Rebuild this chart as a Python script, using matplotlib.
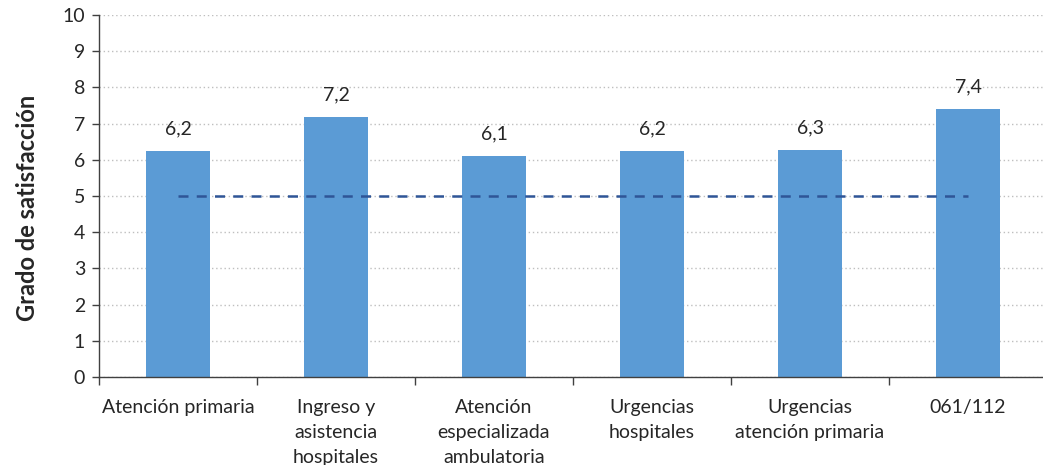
import numpy as np
from matplotlib import pyplot as plt

categories = ["Atención primaria", "Ingreso y\nasistencia\nhospitales",
              "Atención\nespecializada\nambulatoria", "Urgencias\nhospitales",
              "Urgencias\natención primaria", "061/112"]
values = [6.24, 7.18, 6.10, 6.24, 6.27, 7.40]
value_labels = ["6,2", "7,2", "6,1", "6,2", "6,3", "7,4"]
reference = 5

plt.rcParams['font.family'] = ['Lato', 'DejaVu Sans']

fig = plt.figure(figsize=(10.43, 4.65), dpi=100)
ax = fig.add_axes([99/1043, 88/465, 948/1043, 362/465])

x = np.arange(len(categories))
ax.bar(x, values, width=0.405, color='#5B9BD5', zorder=2)
ax.plot([x[0], x[-1]], [reference, reference], color='#2F5597', lw=1.8,
        dashes=(4, 3.3), zorder=3)

for xi, v, lab in zip(x, values, value_labels):
    ax.annotate(lab, (xi, v), xytext=(0, 10), textcoords='offset points',
                ha='center', va='bottom', fontsize=14, color='#262626')

ax.set_xlim(-0.5, len(categories) - 0.5)
ax.set_ylim(0, 10)
ax.set_yticks(range(0, 11))
ax.yaxis.grid(True, color='#BFBFBF', linestyle=(0, (1, 2)), lw=1.0, zorder=0)

ax.set_xticks(x)
ax.set_xticklabels(categories, fontsize=14, color='#262626', linespacing=1.55, va='top')
ax.set_xticks(np.arange(-0.5, len(categories)), minor=True)
ax.tick_params(axis='x', which='major', length=0, pad=16)
ax.tick_params(axis='x', which='minor', length=6, width=1.0, color='#404040')
ax.tick_params(axis='y', length=5, width=1.0, color='#404040', labelsize=14,
               labelcolor='#262626', pad=5)

for s in ['top', 'right']:
    ax.spines[s].set_visible(False)
for s in ['left', 'bottom']:
    ax.spines[s].set_color('#404040')
    ax.spines[s].set_linewidth(1.0)

ax.set_ylabel("Grado de satisfacción", fontsize=17, fontweight='bold',
              color='#262626')
ax.yaxis.set_label_coords(-60/948, 0.467)

fig.savefig("out.png", dpi=100)
